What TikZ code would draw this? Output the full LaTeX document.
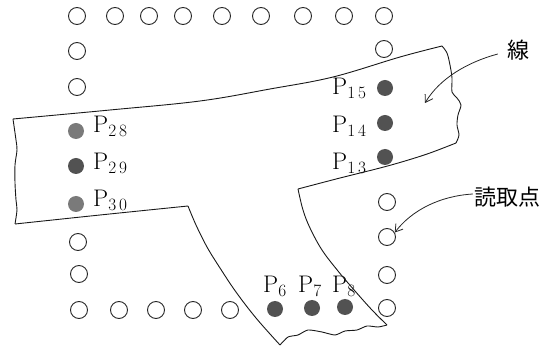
\documentclass[tikz,border=0pt]{standalone}
\usepackage{fontspec}
\newfontfamily\jpfont{Noto Sans CJK JP}
\usetikzlibrary{arrows.meta}
\begin{document}
\begin{tikzpicture}[x=1pt,y=-1pt,
  hole/.style={circle,draw=black!85,line width=0.9pt,minimum size=17pt,inner sep=0pt},
  darkdot/.style={circle,fill=black!68,minimum size=16pt,inner sep=0pt},
  lightdot/.style={circle,fill=black!52,minimum size=16pt,inner sep=0pt},
  plab/.style={anchor=base west,inner sep=0pt,font=\fontsize{24}{28}\selectfont},
  jplab/.style={inner sep=1pt,font=\jpfont\fontsize{22}{26}\selectfont},
  band/.style={draw=black!90,line width=0.9pt,line join=round},
  arr/.style={draw=black!85,line width=0.8pt,-{Straight Barb[length=7pt,width=9pt]}}]
\useasboundingbox (0,0) rectangle (544,347);

% top row of reading points
\node[hole] (t1) at (77,16) {};
\node[hole] (t2) at (115,16) {};
\node[hole] (t3) at (149,16) {};
\node[hole] (t4) at (183,16) {};
\node[hole] (t5) at (222,16) {};
\node[hole] (t6) at (261,16) {};
\node[hole] (t7) at (303,16) {};
\node[hole] (t8) at (344,16) {};
\node[hole] (t9) at (384,16) {};
% left column
\node[hole] (l1) at (77,51) {};
\node[hole] (l2) at (77,87) {};
\node[lightdot] (p28) at (76,131) {};
\node[darkdot] (p29) at (76,166) {};
\node[lightdot] (p30) at (76,204) {};
\node[hole] (l6) at (78,242) {};
\node[hole] (l7) at (79,274) {};
% bottom row
\node[hole] (b1) at (79,310) {};
\node[hole] (b2) at (119,310) {};
\node[hole] (b3) at (156,310) {};
\node[hole] (b4) at (193,310) {};
\node[hole] (b5) at (230,310) {};
\node[darkdot] (p6) at (275,309) {};
\node[darkdot] (p7) at (312,308) {};
\node[darkdot] (p8) at (345,307) {};
\node[hole] (b9) at (387,308) {};
% right column
\node[hole] (r2) at (384,49) {};
\node[darkdot] (p15) at (385,88) {};
\node[darkdot] (p14) at (385,123) {};
\node[darkdot] (p13) at (385,157) {};
\node[hole] (r5) at (387,202) {};
\node[hole] (r6) at (387,237) {};
\node[hole] (r7) at (387,275) {};

% labels
\node[plab] (lp28) at (93,133) {$\mathrm{P}_{2\,8}$};
\node[plab] (lp29) at (93,170) {$\mathrm{P}_{2\,9}$};
\node[plab] (lp30) at (93,207) {$\mathrm{P}_{3\,0}$};
\node[plab] (lp15) at (332,95) {$\mathrm{P}_{1\,5}$};
\node[plab] (lp14) at (332,133) {$\mathrm{P}_{1\,4}$};
\node[plab] (lp13) at (332,170) {$\mathrm{P}_{1\,3}$};
\node[plab] (lp6) at (263,293) {$\mathrm{P}_{6}$};
\node[plab] (lp7) at (298,293) {$\mathrm{P}_{7}$};
\node[plab] (lp8) at (332,293) {$\mathrm{P}_{8}$};

% the band (line)
\draw[band] plot[smooth,tension=0.6] coordinates {(13,119) (110,110) (200,101) (270,89) (333,77) (400,57) (442,46)};
\draw[band] plot[smooth,tension=0.5] coordinates {(442,46) (447,53) (450,65) (452,78) (452,92) (457,98) (461,105) (458,115) (457,125) (459,135) (456,143)};
\draw[band] plot[smooth,tension=0.6] coordinates {(456,143) (430,153) (405,161) (380,168) (340,178) (298,189)};
\draw[band] plot[smooth,tension=0.6] coordinates {(298,189) (303,210) (310,228) (322,250) (338,271) (355,291) (372,310) (387,325)};
\draw[band] plot[smooth,tension=0.4] coordinates {(387,325) (378,327) (367,326) (357,330) (345,331) (335,335) (322,332) (308,330) (298,335) (288,337) (280,345)};
\draw[band] plot[smooth,tension=0.6] coordinates {(280,345) (256,318) (236,292) (220,268) (207,247) (196,225) (188,206)};
\draw[band] plot[smooth,tension=0.6] coordinates {(188,206) (100,215) (15,224)};
\draw[band] plot[smooth,tension=0.5] coordinates {(15,224) (17,210) (16,200) (15,183) (15,165) (17,150) (16,140) (13,119)};

% callouts
\node[jplab] (sen) at (518,50) {線};
\node[jplab] (yomi) at (507,197) {読取点};
\coordinate (bandpt) at (425,103);
\draw[arr] ([shift={(-8,4)}]sen.west) .. controls (468,62) and (440,78) .. (bandpt);
\draw[arr] ([shift={(0,-3)}]yomi.west) .. controls (440,196) and (412,210) .. (r6.30);
\end{tikzpicture}
\end{document}
